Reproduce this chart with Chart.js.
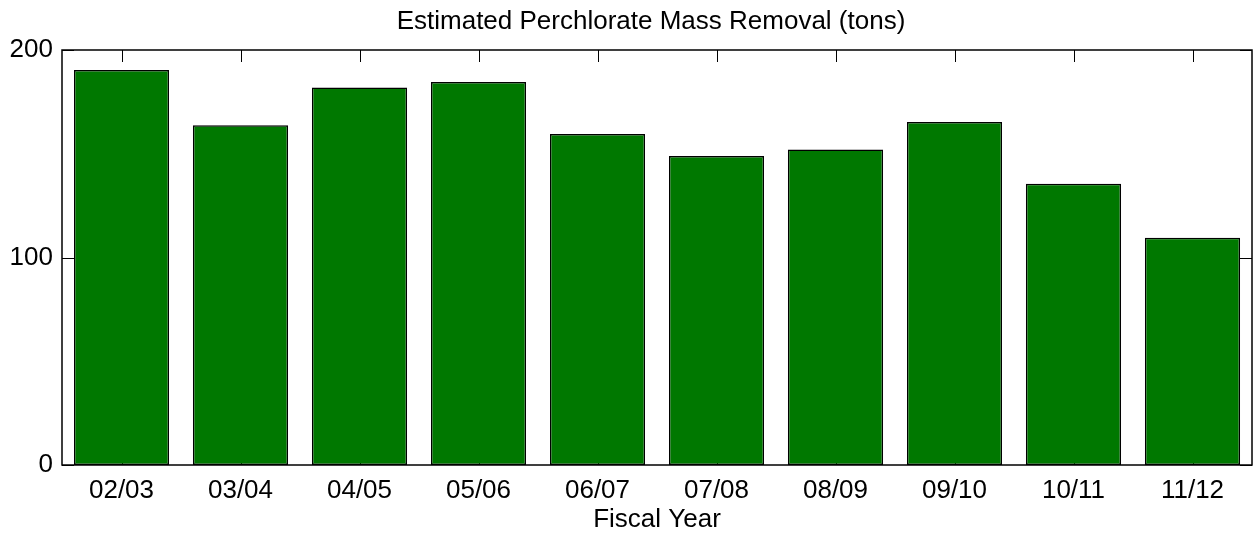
<!DOCTYPE html>
<html>
<head>
<meta charset="utf-8">
<script src="https://cdn.jsdelivr.net/npm/chart.js@4"></script>
<style>
  html, body { margin: 0; padding: 0; background: #fff; }
  #wrap { width: 1254px; height: 537px; }
</style>
</head>
<body>
<div id="wrap"><canvas id="massChart" width="1254" height="537"></canvas></div>
<script>
// fiscal years and estimated removal (tons)
const years = ["02/03", "03/04", "04/05", "05/06", "06/07", "07/08", "08/09", "09/10", "10/11", "11/12"];
const removal = [190.4, 163.7, 181.9, 184.6, 159.5, 148.9, 152.1, 165.3, 135.6, 109.5];
const yTicks = [0, 100, 200];
const chartTitle = 'Estimated Perchlorate Mass Removal (tons)';

const FONT = "'Liberation Sans', Arial, Helvetica, sans-serif";

// box + inward tick marks, matlab style; title centred over the axes box
const frameTicks = {
  id: 'frameTicks',
  beforeDatasetsDraw(chart) {
    const { ctx, chartArea: a, scales: { x, y } } = chart;
    ctx.save();
    ctx.strokeStyle = '#000';
    ctx.lineWidth = 1;
    ctx.beginPath();
    yTicks.forEach(v => {
      const py = Math.round(y.getPixelForValue(v)) + 0.5;
      ctx.moveTo(a.left, py); ctx.lineTo(a.left + 12, py);
      ctx.moveTo(a.right, py); ctx.lineTo(a.right - 12, py);
    });
    years.forEach((_, i) => {
      const px = Math.round(x.getPixelForValue(i)) + 0.5;
      ctx.moveTo(px, a.top); ctx.lineTo(px, a.top + 12);
      ctx.moveTo(px, a.bottom); ctx.lineTo(px, a.bottom - 12);
    });
    ctx.stroke();
    ctx.restore();
  },
  afterDatasetsDraw(chart) {
    const { ctx, chartArea: a } = chart;
    ctx.save();
    ctx.strokeStyle = '#000';
    ctx.lineWidth = 1.5;
    ctx.strokeRect(a.left, a.top, a.right - a.left, a.bottom - a.top);
    ctx.fillStyle = '#000';
    ctx.font = '26px ' + FONT;
    ctx.textAlign = 'center';
    ctx.textBaseline = 'middle';
    ctx.fillText(chartTitle, (a.left + a.right) / 2 - 6, a.top - 28);
    ctx.restore();
  }
};

const ctx = document.getElementById('massChart').getContext('2d');
new Chart(ctx, {
  type: 'bar',
  data: {
    labels: years,
    datasets: [{
      label: chartTitle,
      data: removal,
      backgroundColor: '#007800',
      borderColor: '#000',
      borderWidth: 1.5,
      borderSkipped: false,
      barPercentage: 0.8,
      categoryPercentage: 1.0
    }]
  },
  options: {
    responsive: false,
    animation: false,
    devicePixelRatio: 1,
    layout: { padding: { top: 50, right: 2, bottom: 0, left: 0 } },
    plugins: {
      legend: { display: false },
      tooltip: { enabled: false },
      title: { display: false }
    },
    scales: {
      x: {
        grid: { display: false, drawTicks: false },
        border: { display: false },
        ticks: { color: '#000', font: { family: FONT, size: 26 }, padding: 10, maxRotation: 0 },
        title: {
          display: true, text: 'Fiscal Year', color: '#000',
          font: { family: FONT, size: 26, lineHeight: 1.2 },
          padding: { top: 0, bottom: 2 }
        },
        afterFit: s => { s.height = 72; }
      },
      y: {
        min: 0, max: 200,
        grid: { display: false, drawTicks: false },
        border: { display: false },
        ticks: {
          color: '#000', font: { family: FONT, size: 26 }, padding: 9,
          stepSize: 100
        },
        afterBuildTicks: s => { s.ticks = yTicks.map(v => ({ value: v })); },
        afterFit: s => { s.width = 62; }
      }
    }
  },
  plugins: [frameTicks]
});
</script>
</body>
</html>
